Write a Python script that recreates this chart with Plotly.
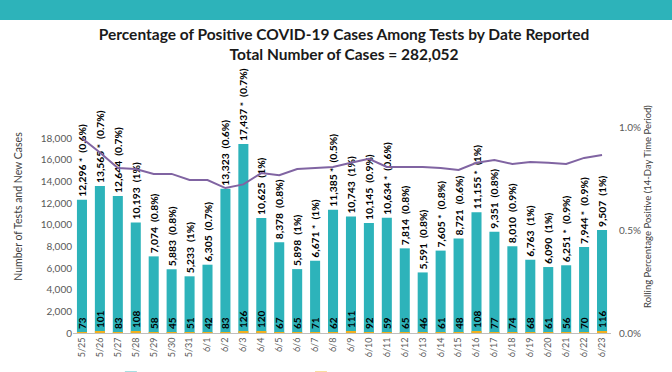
import plotly.graph_objects as go
from plotly.subplots import make_subplots

dates = ["5/25", "5/26", "5/27", "5/28", "5/29", "5/30", "5/31", "6/1", "6/2", "6/3",
         "6/4", "6/5", "6/6", "6/7", "6/8", "6/9", "6/10", "6/11", "6/12", "6/13",
         "6/14", "6/15", "6/16", "6/17", "6/18", "6/19", "6/20", "6/21", "6/22", "6/23"]
tests = [12296, 13565, 12644, 10193, 7074, 5883, 5233, 6305, 13323, 17437,
         10625, 8378, 5898, 6671, 11385, 10743, 10145, 10634, 7814, 5591,
         7605, 8721, 11155, 9351, 8010, 6763, 6090, 6251, 7944, 9507]
starred = [True, True, False, False, False, False, False, False, False, True,
           False, False, False, True, True, False, False, True, False, False,
           True, False, True, False, False, False, False, True, True, False]
pct_new = ["0.6%", "0.7%", "0.7%", "1%", "0.8%", "0.8%", "1%", "0.7%", "0.6%", "0.7%",
           "1%", "0.8%", "1%", "1%", "0.5%", "1%", "0.9%", "0.6%", "0.8%", "0.8%",
           "0.8%", "0.6%", "1%", "0.8%", "0.9%", "1%", "1%", "0.9%", "0.9%", "1%"]
new_cases = [73, 101, 83, 108, 58, 45, 51, 42, 83, 126,
             120, 67, 65, 71, 62, 111, 92, 59, 65, 46,
             61, 48, 108, 77, 74, 68, 61, 56, 70, 116]
rolling = [0.95, 0.88, 0.805, 0.80, 0.776, 0.776, 0.746, 0.746, 0.707, 0.725,
           0.78, 0.77, 0.80, 0.805, 0.81, 0.83, 0.85, 0.81, 0.81, 0.81,
           0.805, 0.795, 0.83, 0.844, 0.824, 0.834, 0.83, 0.824, 0.854, 0.868]

left_ticks = [0, 2000, 4000, 6000, 8000, 10000, 12000, 14000, 16000, 18000]
right_ticks = [0.0, 0.5, 1.0]

TEAL = "#2DB3BA"
ORANGE = "#F2B01E"
PURPLE = "#8064A2"
FONT = "Lato"

test_labels = [f"{v:,}{' *' if s else ''}  ({p})" for v, s, p in zip(tests, starred, pct_new)]

fig = make_subplots(specs=[[{"secondary_y": True}]])

fig.add_trace(go.Bar(
    x=dates, y=tests, name="Reported Tests (% New Cases)",
    marker=dict(color=TEAL, line=dict(width=0)),
    text=test_labels, textposition="outside", textangle=-90,
    textfont=dict(family=FONT, size=10.3, color="#000000", weight="bold"),
    constraintext="none", cliponaxis=False, width=0.56,
), secondary_y=False)

fig.add_trace(go.Bar(
    x=dates, y=new_cases, name="New Cases",
    marker=dict(color=ORANGE, line=dict(width=0)),
    text=[str(v) for v in new_cases], textposition="outside", textangle=-90,
    textfont=dict(family=FONT, size=10, color="#000000", weight="bold"),
    constraintext="none", cliponaxis=False, width=0.56,
), secondary_y=False)

fig.add_trace(go.Scatter(
    x=dates, y=rolling, name="Rolling Percentage", mode="lines",
    line=dict(color=PURPLE, width=2),
), secondary_y=True)

fig.update_layout(
    width=672, height=372,
    margin=dict(l=73, r=61, t=80, b=39, autoexpand=False),
    paper_bgcolor="white", plot_bgcolor="white",
    barmode="overlay",
    font=dict(family=FONT, color="#404040"),
    title=dict(
        text="<b>Percentage of Positive COVID-19 Cases Among Tests by Date Reported<br>Total Number of Cases = 282,052</b>",
        x=0.512, xref="container", y=0.893, yref="container", yanchor="middle",
        font=dict(family=FONT, size=15.5, color="#1a1a1a"),
    ),
    showlegend=True,
    legend=dict(orientation="h", x=0.165, xref="container", xanchor="left",
                y=0.024, yref="container", yanchor="top",
                font=dict(family=FONT, size=11, color="#404040"),
                traceorder="normal", itemwidth=30),
    shapes=[dict(type="rect", xref="paper", yref="paper",
                 x0=-0.2, x1=1.2, y0=(333 - 20) / 253, y1=(333 + 0) / 253 + 0.1,
                 fillcolor=TEAL, line=dict(width=0), layer="above")],
)

fig.update_xaxes(
    type="category", tickangle=-90, showgrid=False, domain=[0, 1],
    showline=True, linecolor="#BFBFBF", linewidth=1,
    tickfont=dict(family=FONT, size=9, color="#595959"), ticks="",
)
fig.update_yaxes(
    range=[0, 23354], tickvals=left_ticks, tickformat=",d",
    showgrid=False, zeroline=False, showline=False,
    tickfont=dict(family=FONT, size=10, color="#595959"),
    title=dict(text="Number of Tests and New Cases", font=dict(family=FONT, size=10.5, color="#404040"), standoff=16),
    secondary_y=False,
)
fig.update_yaxes(
    range=[0, 1.234], tickvals=right_ticks, ticktext=["0.0%", "0.5%", "1.0%"],
    showgrid=False, zeroline=False, showline=False, ticklabelstandoff=7,
    tickfont=dict(family=FONT, size=10, color="#595959"),
    title=dict(text="Rolling Percentage Positive (14-Day Time Period)", font=dict(family=FONT, size=9.5, color="#404040"), standoff=4),
    secondary_y=True,
)

fig.write_html("out.html", post_script="document.body.style.margin='0';",
               config={"displayModeBar": False})
